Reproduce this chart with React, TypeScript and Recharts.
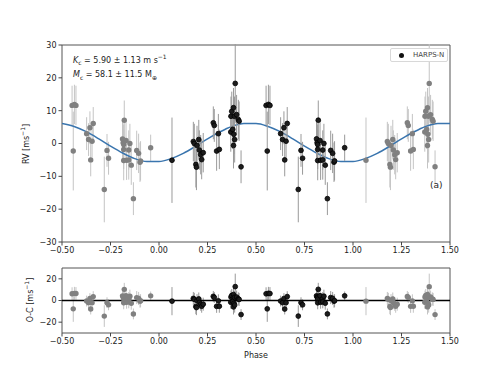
import React from "react";
import {
  ComposedChart,
  Scatter,
  Line,
  XAxis,
  YAxis,
  ErrorBar,
  ReferenceArea,
  ReferenceLine,
} from "recharts";

// HARPS-N points folded on the orbital phase (0..1)
const phase = [
  0.067, 0.177, 0.182, 0.19, 0.193, 0.196, 0.205, 0.208, 0.215, 0.22,
  0.228, 0.28, 0.285, 0.297, 0.306, 0.311, 0.37, 0.371, 0.375, 0.38,
  0.384, 0.384, 0.386, 0.389, 0.39, 0.393, 0.4, 0.409, 0.413, 0.423,
  0.552, 0.558, 0.564, 0.572, 0.627, 0.637, 0.644, 0.648, 0.655, 0.661,
  0.718, 0.732, 0.74, 0.812, 0.815, 0.821, 0.818, 0.818, 0.818, 0.83,
  0.833, 0.844, 0.844, 0.85, 0.857, 0.868, 0.885, 0.895, 0.902, 0.905,
  0.957,
];
const rv = [
  -5.1, 0.6, 0.0, -6.4, -7.2, -0.6, 1.2, -2.0, -3.4, -4.9,
  -2.8, 6.3, 5.5, -2.3, 3.0, -1.8, 3.5, 8.3, 9.8, 4.3,
  10.9, -0.6, 2.8, 8.3, 1.2, 18.3, 8.8, 7.3, 6.8, -7.1,
  11.6, -2.3, 11.9, 11.6, 3.0, 1.2, 4.8, -5.0, 0.7, 6.1,
  -14.0, -2.1, -4.5, 1.4, 0.2, 7.1, -0.3, -1.8, -5.2, 0.9,
  -5.1, -2.0, -5.0, 0.0, -6.6, -16.8, -2.1, -3.0, -5.7, -5.3,
  -1.3,
];
const rvErr = [
  13, 6, 6, 7, 7, 6, 6, 6, 6, 6,
  6, 5, 5, 6, 6, 6, 6, 6, 6, 6,
  6, 7, 6, 6, 7, 12, 6, 6, 6, 5,
  6, 12, 6, 6, 5, 5, 5, 5, 5, 5,
  10, 5, 5, 6, 6, 6, 6, 6, 6, 6,
  6, 6, 6, 6, 6, 5, 6, 6, 6, 6,
  4,
];
const oc = [
  -0.6, 1.9, 1.1, -5.6, -6.5, -0.1, 1.4, -1.9, -3.5, -5.3,
  -3.4, 3.8, 2.8, -5.4, -0.3, -5.3, -1.6, 3.2, 4.6, -1.0,
  5.5, -5.9, -2.6, 2.9, -4.2, 12.8, 3.2, 1.5, 1.0, -13.0,
  6.2, -7.7, 6.6, 6.4, -0.5, -2.0, 1.8, -7.9, -2.0, 3.6,
  -14.4, -2.0, -4.0, 4.3, 3.2, 10.3, 2.8, 1.3, -2.1, 4.4,
  -1.6, 1.8, -1.2, 4.0, -2.5, -12.4, 2.7, 1.9, -0.6, -0.2,
  4.3,
];

// keplerian model curve
const modelPhase = [
  -0.5, -0.4375, -0.375, -0.3125, -0.25, -0.1875, -0.125, -0.0625,
  0, 0.0625, 0.125, 0.1875, 0.25, 0.3125, 0.375, 0.4375,
  0.5, 0.5625, 0.625, 0.6875, 0.75, 0.8125, 0.875, 0.9375,
  1, 1.0625, 1.125, 1.1875, 1.25, 1.3125, 1.375, 1.4375, 1.5,
];
const modelRv = [
  6.1, 5.2, 3.6, 1.5, -0.8, -2.9, -4.6, -5.5,
  -5.5, -4.6, -3.0, -0.9, 1.4, 3.5, 5.2, 6.1,
  6.1, 5.2, 3.6, 1.5, -0.8, -2.9, -4.6, -5.5,
  -5.5, -4.6, -3.0, -0.9, 1.4, 3.5, 5.2, 6.1, 6.1,
];

const phaseTicks = [-0.5, -0.25, 0, 0.25, 0.5, 0.75, 1, 1.25, 1.5];
const rvTicks = [-30, -20, -10, 0, 10, 20, 30];
const ocTicks = [-20, 0, 20];

const points = phase.map((p, i) => ({ phase: p, rv: rv[i], err: rvErr[i], oc: oc[i] }));
// repeated points outside 0..1 are drawn grey
const repeats = points.map((d) => ({ ...d, phase: d.phase > 0.5 ? d.phase - 1 : d.phase + 1 }));
const model = modelPhase.map((p, i) => ({ phase: p, rv: modelRv[i] }));

const minus = (s: string) => s.replace("-", "\u2212");
const tickStyle = { fontSize: 8, fill: "#222", fontFamily: "DejaVu Sans" };
const FONT = "DejaVu Sans";

const blackDot = (p: any) => (
  <circle cx={p.cx} cy={p.cy} r={2.4} fill="#1c1c1c" stroke="#000" strokeWidth={0.8} />
);
const greyDot = (p: any) => <circle cx={p.cx} cy={p.cy} r={2.7} fill="#808080" />;

export default function App() {
  return (
    <div
      style={{
        position: "absolute",
        left: 0,
        top: 0,
        width: 500,
        height: 375,
        background: "#fff",
        fontFamily: FONT,
        color: "#222",
      }}
    >
      <div style={{ position: "absolute", left: 0, top: 0 }}>
        <ComposedChart width={500} height={262} margin={{ top: 45, right: 50, bottom: 0, left: 0 }}>
          <XAxis
            type="number"
            dataKey="phase"
            domain={[-0.5, 1.5]}
            ticks={phaseTicks}
            tickFormatter={(v: number) => minus(v.toFixed(2))}
            axisLine={false}
            tickLine={{ stroke: "#444" }}
            tickSize={3.5}
            tickMargin={2}
            tick={tickStyle}
            height={20}
            allowDataOverflow
          />
          <YAxis
            type="number"
            dataKey="rv"
            domain={[-30, 30]}
            ticks={rvTicks}
            tickFormatter={(v: number) => minus(String(v))}
            axisLine={false}
            tickLine={{ stroke: "#444" }}
            tickSize={3.5}
            tickMargin={2}
            tick={tickStyle}
            width={62}
            allowDataOverflow
          />
          <ReferenceArea x1={-0.5} x2={1.5} y1={-30} y2={30} fill="none" stroke="#555" strokeWidth={1} />
          <Scatter data={repeats} dataKey="rv" shape={greyDot} isAnimationActive={false}>
            <ErrorBar dataKey="err" direction="y" width={0} stroke="#c4c4c4" strokeWidth={1} />
          </Scatter>
          <Line
            data={model}
            dataKey="rv"
            type="monotone"
            stroke="#3a75ae"
            strokeWidth={1.5}
            dot={false}
            isAnimationActive={false}
          />
          <Scatter data={points} dataKey="rv" shape={blackDot} isAnimationActive={false}>
            <ErrorBar dataKey="err" direction="y" width={0} stroke="#9a9a9a" strokeWidth={1} />
          </Scatter>
        </ComposedChart>
      </div>

      <div style={{ position: "absolute", left: 0, top: 262 }}>
        <ComposedChart width={500} height={113} margin={{ top: 6, right: 50, bottom: 22, left: 0 }}>
          <XAxis
            type="number"
            dataKey="phase"
            domain={[-0.5, 1.5]}
            ticks={phaseTicks}
            tickFormatter={(v: number) => minus(v.toFixed(2))}
            axisLine={false}
            tickLine={{ stroke: "#444" }}
            tickSize={3.5}
            tickMargin={2}
            tick={tickStyle}
            height={20}
            allowDataOverflow
          />
          <YAxis
            type="number"
            dataKey="oc"
            domain={[-30, 30]}
            ticks={ocTicks}
            tickFormatter={(v: number) => minus(String(v))}
            axisLine={false}
            tickLine={{ stroke: "#444" }}
            tickSize={3.5}
            tickMargin={2}
            tick={tickStyle}
            width={62}
            allowDataOverflow
          />
          <ReferenceArea x1={-0.5} x2={1.5} y1={-30} y2={30} fill="none" stroke="#555" strokeWidth={1} />
          <Scatter data={repeats} dataKey="oc" shape={greyDot} isAnimationActive={false}>
            <ErrorBar dataKey="err" direction="y" width={0} stroke="#c4c4c4" strokeWidth={1} />
          </Scatter>
          <Scatter data={points} dataKey="oc" shape={blackDot} isAnimationActive={false}>
            <ErrorBar dataKey="err" direction="y" width={0} stroke="#9a9a9a" strokeWidth={1} />
          </Scatter>
          <ReferenceLine y={0} stroke="#000" strokeWidth={1.5} />
        </ComposedChart>
      </div>

      {/* axis titles */}
      <div
        style={{
          position: "absolute",
          left: 25,
          top: 144,
          transform: "translate(-50%, -50%) rotate(-90deg)",
          fontSize: 8,
          whiteSpace: "nowrap",
        }}
      >
        RV [ms<sup style={{ fontSize: 6 }}>−1</sup>]
      </div>
      <div
        style={{
          position: "absolute",
          left: 29,
          top: 300,
          transform: "translate(-50%, -50%) rotate(-90deg)",
          fontSize: 8,
          whiteSpace: "nowrap",
        }}
      >
        O-C [ms<sup style={{ fontSize: 6 }}>−1</sup>]
      </div>
      <div
        style={{
          position: "absolute",
          left: 256,
          top: 355,
          transform: "translate(-50%, -50%)",
          fontSize: 8,
        }}
      >
        Phase
      </div>

      {/* annotations */}
      <div style={{ position: "absolute", left: 73, top: 52, fontSize: 8, lineHeight: "10px", whiteSpace: "nowrap" }}>
        <i>K</i>
        <sub style={{ fontSize: 6 }}>c</sub> = 5.90 ± 1.13 m s<sup style={{ fontSize: 6 }}>−1</sup>
      </div>
      <div style={{ position: "absolute", left: 73, top: 70, fontSize: 8, lineHeight: "10px", whiteSpace: "nowrap" }}>
        <i>M</i>
        <sub style={{ fontSize: 6 }}>c</sub> = 58.1 ± 11.5 M<sub style={{ fontSize: 6 }}>⊕</sub>
      </div>
      <div style={{ position: "absolute", left: 430, top: 180, fontSize: 9 }}>(a)</div>

      {/* legend */}
      <div
        style={{
          position: "absolute",
          left: 390,
          top: 48,
          width: 56,
          height: 12,
          border: "1px solid #d8d8d8",
          borderRadius: 2,
          background: "#fff",
        }}
      >
        <div
          style={{
            position: "absolute",
            left: 8,
            top: 4,
            width: 5,
            height: 5,
            borderRadius: "50%",
            background: "#111",
          }}
        />
        <div style={{ position: "absolute", left: 22, top: 1, fontSize: 7, lineHeight: "10px", whiteSpace: "nowrap", color: "#444" }}>
          HARPS-N
        </div>
      </div>
    </div>
  );
}
